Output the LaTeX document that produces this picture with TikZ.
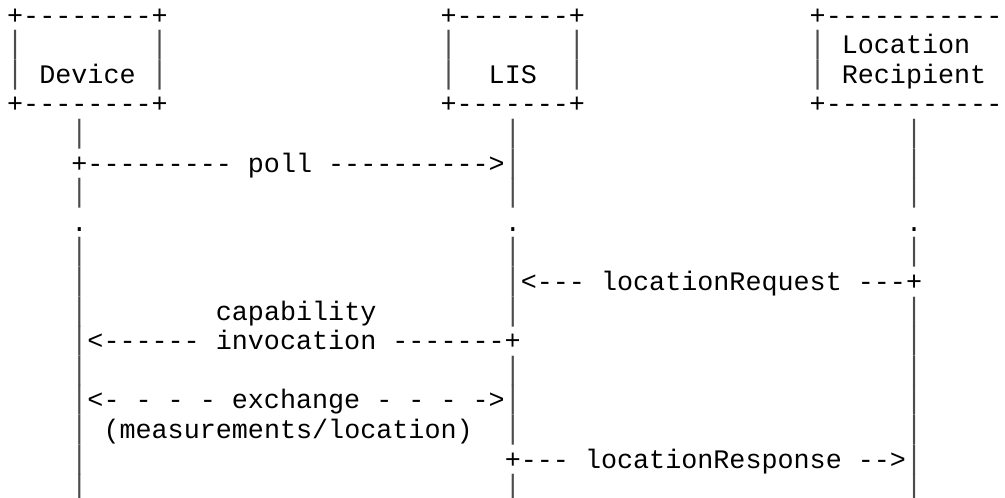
\documentclass[tikz,border=0pt]{standalone}
\usepackage{fontspec}
\setmonofont{Liberation Mono}
\usepackage{tikz}

\newcommand{\lifebar}{\scalebox{1}[1.2]{|}}

\begin{document}
\begin{tikzpicture}[x=16.05pt, y=-29.6pt,
  tt/.style={anchor=base west, inner sep=0pt, text=black,
    font=\ttfamily\fontsize{26.75pt}{29.6pt}\selectfont},
  bar/.style={tt, text=black!70}]
\useasboundingbox (-7pt, 24pt) rectangle (998pt, -474pt);
\clip (-7pt, 24pt) rectangle (998pt, -474pt);
% boxes
\node[tt] (devtop) at (0, 0) {+--------+};
\node[tt] (listop) at (27, 0) {+-------+};
\node[tt] (rcptop) at (50, 0) {+------------};
\foreach \r in {1, 2}
  \foreach \c in {0, 9, 27, 35, 50}
    \node[bar] at (\c, \r) {\lifebar};
\node[tt] (dev) at (2, 2) {Device};
\node[tt] (lis) at (30, 2) {LIS};
\node[tt] (rcp1) at (52, 1) {Location};
\node[tt] (rcp2) at (52, 2) {Recipient};
\node[tt] (devbot) at (0, 3) {+--------+};
\node[tt] (lisbot) at (27, 3) {+-------+};
\node[tt] (rcpbot) at (50, 3) {+------------};
% lifelines
\foreach \r in {4, 6, 8, 9, 10, 11, 12, 13, 14, 15, 16}
  \node[bar] at (4, \r) {\lifebar};
\foreach \r in {4, 5, 6, 8, 9, 10, 12, 13, 14, 16}
  \node[bar] at (31, \r) {\lifebar};
\foreach \r in {4, 5, 6, 8, 10, 11, 12, 13, 14, 15, 16}
  \node[bar] at (56, \r) {\lifebar};
\foreach \c in {4, 31, 56}
  \node[tt] at (\c, 7) {.};
% messages
\node[tt] (poll) at (4, 5) {+---------~poll~---------->};
\node[tt] (req) at (32, 9) {<---~locationRequest~---+};
\node[tt] (cap) at (13, 10) {capability};
\node[tt] (inv) at (5, 11) {<------~invocation~-------+};
\node[tt] (exch) at (5, 13) {<-~-~-~-~exchange~-~-~-~->};
\node[tt] (meas) at (6, 14) {(measurements/location)};
\node[tt] (resp) at (31, 15) {+---~locationResponse~-->};
\end{tikzpicture}
\end{document}
